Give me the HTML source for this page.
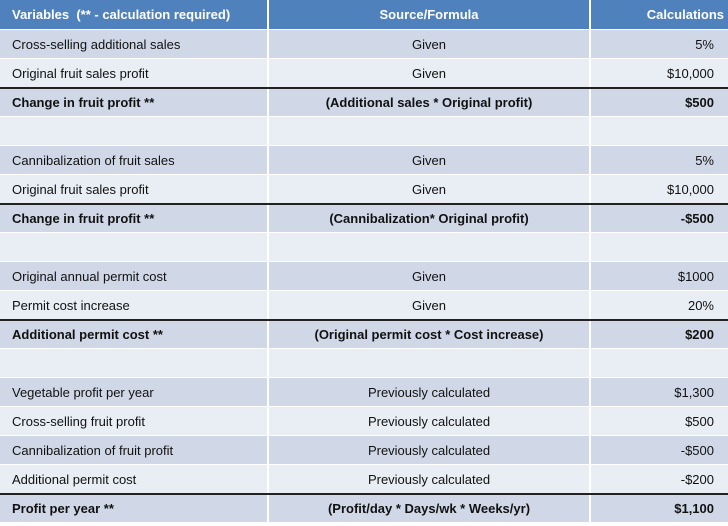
<!DOCTYPE html>
<html><head><meta charset="utf-8"><style>
body{margin:0;width:728px;height:526px;background:#fff;font-family:"Liberation Sans",sans-serif;font-size:13px;color:#111;position:relative;overflow:hidden}
.g{display:grid;grid-template-columns:267px 320px 139px;grid-template-rows:29px repeat(17,28px);row-gap:1px;column-gap:2px;width:728px}
.g div{display:flex;align-items:center;padding:0 12px;white-space:nowrap}
.g div:nth-child(3n+2){justify-content:center}
.g div:nth-child(3n){justify-content:flex-end;padding-right:16px}
.g div.h:nth-child(3){padding-right:6px}
.h{background:#4f81bd;color:#fff;font-weight:bold}
.d{background:#d0d8e8}.l{background:#e9edf4}.b{font-weight:bold}
.line{position:absolute;left:0;width:728px;height:2px;background:#222}
</style></head><body>
<div class="g">
<div class="h">Variables&nbsp; (** - calculation required)</div><div class="h">Source/Formula</div><div class="h">Calculations</div>
<div class="d">Cross-selling additional sales</div><div class="d">Given</div><div class="d">5%</div>
<div class="l">Original fruit sales profit</div><div class="l">Given</div><div class="l">$10,000</div>
<div class="d b">Change in fruit profit **</div><div class="d b">(Additional sales * Original profit)</div><div class="d b">$500</div>
<div class="l"></div><div class="l"></div><div class="l"></div>
<div class="d">Cannibalization of fruit sales</div><div class="d">Given</div><div class="d">5%</div>
<div class="l">Original fruit sales profit</div><div class="l">Given</div><div class="l">$10,000</div>
<div class="d b">Change in fruit profit **</div><div class="d b">(Cannibalization* Original profit)</div><div class="d b">-$500</div>
<div class="l"></div><div class="l"></div><div class="l"></div>
<div class="d">Original annual permit cost</div><div class="d">Given</div><div class="d">$1000</div>
<div class="l">Permit cost increase</div><div class="l">Given</div><div class="l">20%</div>
<div class="d b">Additional permit cost **</div><div class="d b">(Original permit cost * Cost increase)</div><div class="d b">$200</div>
<div class="l"></div><div class="l"></div><div class="l"></div>
<div class="d">Vegetable profit per year</div><div class="d">Previously calculated</div><div class="d">$1,300</div>
<div class="l">Cross-selling fruit profit</div><div class="l">Previously calculated</div><div class="l">$500</div>
<div class="d">Cannibalization of fruit profit</div><div class="d">Previously calculated</div><div class="d">-$500</div>
<div class="l">Additional permit cost</div><div class="l">Previously calculated</div><div class="l">-$200</div>
<div class="d b">Profit per year **</div><div class="d b">(Profit/day * Days/wk * Weeks/yr)</div><div class="d b">$1,100</div>
</div>
<div class="line" style="top:87px"></div>
<div class="line" style="top:203px"></div>
<div class="line" style="top:319px"></div>
<div class="line" style="top:493px"></div>
</body></html>
